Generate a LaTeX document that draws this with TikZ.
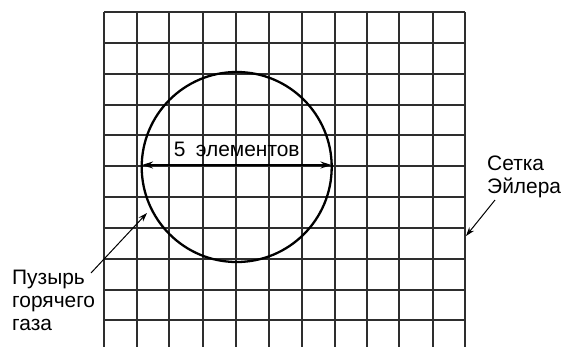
\documentclass[tikz,border=0pt]{standalone}
\usepackage{fontspec}
\setmainfont{Liberation Sans}
\usetikzlibrary{arrows.meta}
\tikzset{
  gridline/.style={line width=1.6pt, black!82},
  bubble/.style={line width=2.3pt},
  lbl/.style={inner sep=0pt, font=\fontsize{21}{22.8}\selectfont, align=left},
  pointer/.style={line width=1pt, -{Stealth[length=9pt,width=6pt]}},
  dimarrow/.style={line width=1.6pt, {Stealth[length=11pt,width=7pt]}-{Stealth[length=11pt,width=7pt]}}
}
\begin{document}
\begin{tikzpicture}[x=1bp,y=-1bp]
\useasboundingbox (0,0) rectangle (562,347);
\begin{scope}
\clip (0,0) rectangle (562,347);
\foreach \x in {104,137,169,203,236,269,302,335,367,399,433,465} {
  \draw[gridline] (\x,12) -- (\x,347);
}
\foreach \y in {12,43,74,105,135,166,197,228,259,290,320} {
  \draw[gridline] (104,\y) -- (465,\y);
}
\end{scope}
\node[draw, bubble, circle, minimum size=190bp, inner sep=0pt] (bub) at (236.7,167) {};
\coordinate (dl) at (142,165);
\coordinate (dr) at (331.5,165);
\draw[dimarrow] (dl) -- (dr);
\node[lbl, anchor=base] (dim) at (236.7,156) {5\hspace{0.5em}элементов};
\node[lbl, anchor=base west] (euler) at (487,193) {Сетка\\Эйлера};
\coordinate (eulerfrom) at (495,200);
\coordinate (eulerto) at (466,236);
\draw[pointer] (eulerfrom) -- (eulerto);
\node[lbl, anchor=base west] (gas) at (12,330) {Пузырь\\горячего\\газа};
\coordinate (gasfrom) at (91,273);
\coordinate (gasto) at (147,213);
\draw[pointer] (gasfrom) -- (gasto);
\end{tikzpicture}
\end{document}
